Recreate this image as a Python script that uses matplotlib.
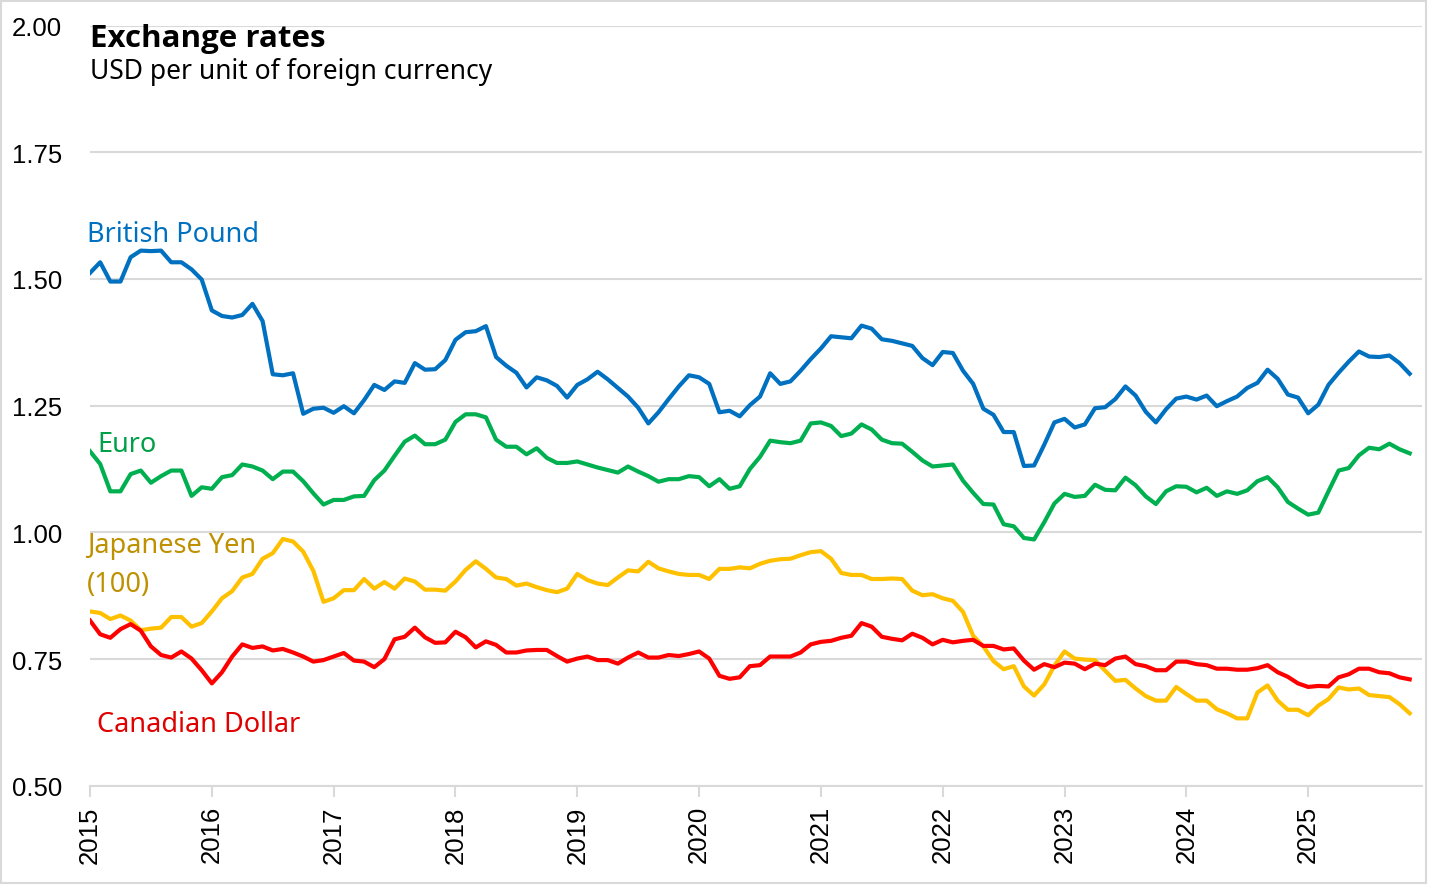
import matplotlib.pyplot as plt
import numpy as np
from matplotlib.patches import Rectangle

# Monthly exchange rates, Jan 2015 - Nov 2025 (USD per unit)
years = ['2015', '2016', '2017', '2018', '2019', '2020',
         '2021', '2022', '2023', '2024', '2025']

gbp = [1.512, 1.533, 1.495, 1.495, 1.543, 1.556, 1.555, 1.556, 1.533, 1.533, 1.519, 1.499,
       1.438, 1.427, 1.424, 1.429, 1.451, 1.417, 1.312, 1.310, 1.314, 1.234, 1.244, 1.246,
       1.236, 1.249, 1.235, 1.261, 1.291, 1.281, 1.298, 1.295, 1.334, 1.321, 1.322, 1.340,
       1.380, 1.395, 1.397, 1.407, 1.346, 1.329, 1.315, 1.286, 1.306, 1.300, 1.289, 1.266,
       1.291, 1.302, 1.317, 1.302, 1.285, 1.268, 1.246, 1.215, 1.237, 1.263, 1.288, 1.310,
       1.306, 1.293, 1.237, 1.240, 1.229, 1.251, 1.268, 1.314, 1.293, 1.298, 1.319, 1.342,
       1.363, 1.387, 1.385, 1.383, 1.408, 1.402, 1.381, 1.378, 1.373, 1.368, 1.344, 1.330,
       1.356, 1.354, 1.319, 1.293, 1.244, 1.232, 1.198, 1.198, 1.131, 1.132, 1.173, 1.217,
       1.224, 1.207, 1.213, 1.245, 1.247, 1.263, 1.288, 1.270, 1.238, 1.217, 1.243, 1.264,
       1.268, 1.262, 1.270, 1.249, 1.259, 1.268, 1.285, 1.295, 1.321, 1.303, 1.272, 1.266,
       1.235, 1.252, 1.291, 1.315, 1.337, 1.357, 1.347, 1.346, 1.349, 1.334, 1.313]

eur = [1.160, 1.135, 1.081, 1.081, 1.115, 1.122, 1.098, 1.111, 1.122, 1.122, 1.072, 1.089,
       1.086, 1.109, 1.113, 1.134, 1.130, 1.122, 1.105, 1.120, 1.120, 1.101, 1.077, 1.055,
       1.064, 1.064, 1.071, 1.072, 1.103, 1.122, 1.151, 1.179, 1.191, 1.174, 1.174, 1.183,
       1.218, 1.233, 1.233, 1.227, 1.183, 1.169, 1.169, 1.154, 1.166, 1.147, 1.137, 1.137,
       1.140, 1.134, 1.128, 1.123, 1.118, 1.130, 1.120, 1.111, 1.100, 1.105, 1.105, 1.111,
       1.109, 1.091, 1.105, 1.086, 1.091, 1.125, 1.149, 1.181, 1.178, 1.176, 1.181, 1.215,
       1.217, 1.210, 1.190, 1.195, 1.213, 1.203, 1.183, 1.176, 1.175, 1.159, 1.142, 1.130,
       1.132, 1.134, 1.102, 1.078, 1.056, 1.055, 1.016, 1.012, 0.989, 0.986, 1.020, 1.057,
       1.076, 1.070, 1.072, 1.094, 1.084, 1.083, 1.108, 1.093, 1.071, 1.056, 1.081, 1.091,
       1.090, 1.079, 1.088, 1.072, 1.081, 1.076, 1.083, 1.101, 1.109, 1.089, 1.060, 1.047,
       1.035, 1.039, 1.081, 1.122, 1.127, 1.152, 1.167, 1.164, 1.175, 1.164, 1.156]

jpy = [0.844, 0.841, 0.829, 0.836, 0.826, 0.807, 0.810, 0.812, 0.833, 0.833, 0.814, 0.821,
       0.844, 0.870, 0.884, 0.911, 0.918, 0.948, 0.959, 0.987, 0.982, 0.962, 0.924, 0.863,
       0.870, 0.886, 0.886, 0.908, 0.889, 0.902, 0.889, 0.909, 0.903, 0.887, 0.887, 0.885,
       0.903, 0.926, 0.943, 0.928, 0.911, 0.908, 0.895, 0.899, 0.892, 0.886, 0.882, 0.889,
       0.918, 0.906, 0.899, 0.896, 0.911, 0.925, 0.923, 0.942, 0.929, 0.923, 0.918, 0.916,
       0.916, 0.908, 0.928, 0.928, 0.931, 0.929, 0.938, 0.944, 0.947, 0.948, 0.955, 0.961,
       0.963, 0.948, 0.920, 0.916, 0.916, 0.908, 0.908, 0.909, 0.908, 0.885, 0.876, 0.878,
       0.870, 0.865, 0.843, 0.796, 0.775, 0.746, 0.730, 0.736, 0.696, 0.678, 0.700, 0.737,
       0.765, 0.751, 0.749, 0.748, 0.727, 0.707, 0.709, 0.692, 0.677, 0.668, 0.668, 0.695,
       0.681, 0.668, 0.668, 0.651, 0.643, 0.633, 0.633, 0.684, 0.698, 0.668, 0.650, 0.650,
       0.639, 0.658, 0.671, 0.694, 0.690, 0.692, 0.679, 0.677, 0.675, 0.661, 0.643]

cad = [0.826, 0.799, 0.792, 0.809, 0.819, 0.806, 0.775, 0.758, 0.753, 0.765, 0.751, 0.728,
       0.702, 0.724, 0.755, 0.779, 0.772, 0.775, 0.767, 0.770, 0.763, 0.755, 0.745, 0.748,
       0.755, 0.762, 0.747, 0.745, 0.734, 0.750, 0.789, 0.794, 0.812, 0.793, 0.782, 0.783,
       0.804, 0.793, 0.773, 0.785, 0.778, 0.763, 0.763, 0.767, 0.768, 0.768, 0.756, 0.745,
       0.751, 0.755, 0.748, 0.748, 0.741, 0.753, 0.763, 0.753, 0.753, 0.758, 0.756, 0.760,
       0.765, 0.751, 0.717, 0.711, 0.714, 0.736, 0.738, 0.755, 0.755, 0.755, 0.763, 0.779,
       0.784, 0.786, 0.792, 0.796, 0.821, 0.814, 0.794, 0.790, 0.787, 0.800, 0.792, 0.779,
       0.788, 0.783, 0.786, 0.788, 0.776, 0.776, 0.769, 0.771, 0.747, 0.729, 0.740, 0.734,
       0.743, 0.741, 0.730, 0.741, 0.738, 0.751, 0.755, 0.740, 0.736, 0.728, 0.728, 0.745,
       0.745, 0.740, 0.738, 0.731, 0.731, 0.729, 0.729, 0.732, 0.738, 0.724, 0.715, 0.702,
       0.695, 0.697, 0.696, 0.714, 0.720, 0.731, 0.731, 0.724, 0.722, 0.714, 0.710]

t = np.arange(len(gbp))

fig = plt.figure(figsize=(14.29, 8.87), dpi=100)
ax = fig.add_axes([0.063, 0.113, 0.932, 0.857])

ax.plot(t, gbp, color='#0070C0', lw=3)
ax.plot(t, eur, color='#00B050', lw=3)
ax.plot(t, jpy, color='#FFC000', lw=3)
ax.plot(t, cad, color='#FF0000', lw=3)

# axes
ax.set_ylim(0.5, 2.0)
ax.set_xlim(0, 131.2)
ax.set_yticks(np.arange(0.5, 2.01, 0.25))
ax.set_yticklabels(['%.2f' % v for v in np.arange(0.5, 2.01, 0.25)],
                   family='Liberation Sans', fontsize=18.5)
ax.set_xticks(np.arange(0, 121, 12))
ax.set_xticklabels(years, rotation=90, family='Liberation Sans', fontsize=18.5)
ax.tick_params(axis='y', length=0, pad=20)
ax.tick_params(axis='x', length=8, color='#d9d9d9', width=1.5, pad=6)
ax.grid(axis='y', color='#d9d9d9', lw=1.5)
ax.set_axisbelow(True)
for s in ['top', 'right', 'left']:
    ax.spines[s].set_visible(False)
ax.spines['bottom'].set_color('#d9d9d9')
ax.spines['bottom'].set_linewidth(1.5)

# series labels
lab = dict(family='Noto Sans', fontsize=19.5, va='center', ha='left')
ax.text(-0.3, 1.589, 'British Pound', color='#0070C0', **lab)
ax.text(0.7, 1.174, 'Euro', color='#00A048', **lab)
ax.text(-0.3, 0.975, 'Japanese Yen', color='#BF9000', **lab)
ax.text(-0.3, 0.898, '(100)', color='#BF9000', **lab)
ax.text(0.7, 0.622, 'Canadian Dollar', color='#E00000', **lab)

# title
fig.text(0.063, 0.956, 'Exchange rates', family='Open Sans', fontsize=22.5,
         fontweight='bold', va='center', ha='left')
fig.text(0.063, 0.919, 'USD per unit of foreign currency', family='Noto Sans',
         fontsize=19, va='center', ha='left')

fig.patches.append(Rectangle((0.001, 0.003), 0.997, 0.995, transform=fig.transFigure,
                             fill=False, edgecolor='#d9d9d9', lw=1.5))

fig.savefig('out.png', dpi=100)
